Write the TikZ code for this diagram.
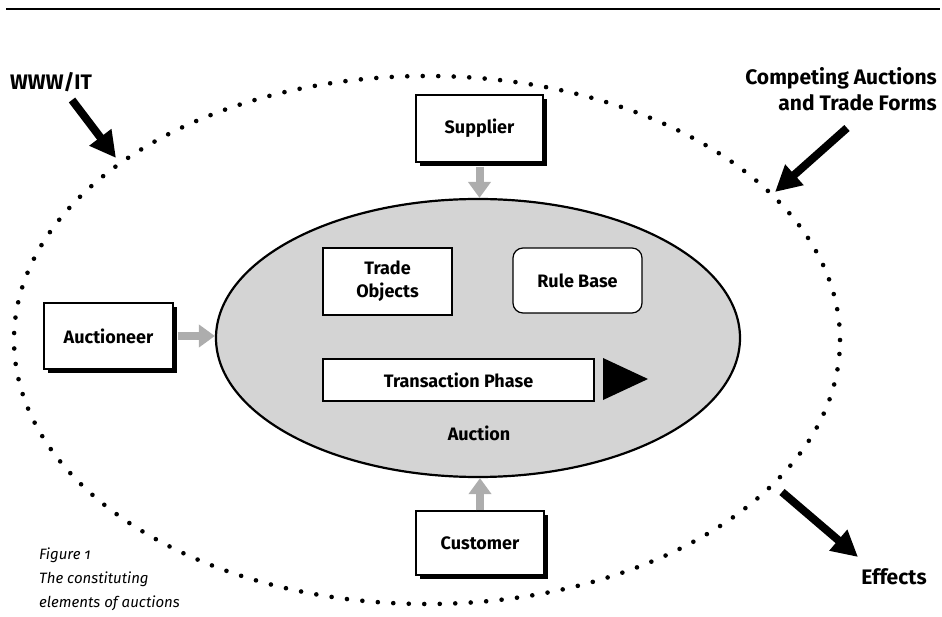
\documentclass[tikz,border=0pt]{standalone}
\usepackage{fontspec}
\setmainfont{Fira Sans}
\usetikzlibrary{shapes.geometric,arrows.meta,shadows}
\begin{document}
\begin{tikzpicture}[x=1pt,y=-1pt,
  box/.style={draw=black, line width=1.2pt, fill=white, font=\bfseries\fontsize{18}{23}\selectfont, align=center, inner sep=0pt},
  shadowbox/.style={box, drop shadow={shadow xshift=4pt, shadow yshift=-4pt, fill=black, opacity=1}},
  grayarr/.style={line width=8pt, color=black!32, -{Triangle[length=16pt,width=22pt]}},
  blackarr/.style={line width=8pt, -{Triangle[length=26pt,width=26pt]}},
  biglabel/.style={font=\bfseries\fontsize{21}{26}\selectfont, inner sep=0pt},
]
\useasboundingbox (0,0) rectangle (942,617);
% top rule
\coordinate (ruleL) at (6,9);
\coordinate (ruleR) at (940,9);
\draw[line width=2pt] (ruleL) -- (ruleR);
% environment (dotted ellipse)
\node[ellipse, draw, line width=4.6pt, dash pattern=on 0pt off 15.5pt, line cap=round,
      minimum width=826pt, minimum height=528pt, inner sep=0pt] (env) at (427,340) {};
% auction ellipse
\node[ellipse, draw, line width=2.2pt, fill={rgb,255:red,212;green,212;blue,212},
      minimum width=524pt, minimum height=278pt, inner sep=0pt] (auction) at (478,338) {};
% boxes
\node[shadowbox, minimum width=127pt, minimum height=67pt] (supplier) at (479.5,128.5) {Supplier};
\node[shadowbox, minimum width=129pt, minimum height=66pt] (auctioneer) at (108.5,336) {Auctioneer};
\node[shadowbox, minimum width=128pt, minimum height=64pt] (customer) at (480,543) {Customer};
\node[box, minimum width=129pt, minimum height=67pt] (trade) at (387.5,281.5) {Trade\\Objects};
\node[box, rounded corners=10pt, minimum width=129pt, minimum height=65pt] (rule) at (577.5,280.5) {Rule Base};
\node[box, minimum width=271pt, minimum height=42pt] (trans) at (458.5,380) {Transaction Phase};
\fill (603,358) -- (648,379) -- (603,400) -- cycle;
\node[font=\bfseries\fontsize{18}{22}\selectfont, inner sep=0pt] (auclabel) at (479,433) {Auction};
% gray arrows
\draw[grayarr] ([yshift=-4pt]supplier.south) -- (supplier.south |- auction.north);
\draw[grayarr] ([xshift=4pt]auctioneer.east) -- (auctioneer.east -| auction.west);
\draw[grayarr] (customer.north) -- (customer.north |- auction.south);
% outer labels and arrows
\node[biglabel, anchor=base west] (www) at (10,90) {WWW/IT};
\coordinate (wwwtail) at (72,100);
\coordinate (wwwtip) at (116,158);
\draw[blackarr] (wwwtail) -- (wwwtip);
\node[biglabel, align=right, anchor=north east] (comp) at (937,67) {Competing Auctions\\and Trade Forms};
\coordinate (comptail) at (847,128);
\coordinate (comptip) at (775,192);
\draw[blackarr] (comptail) -- (comptip);
\node[biglabel] (effects) at (894,577) {Effects};
\coordinate (efftail) at (782,492);
\coordinate (efftip) at (858,557);
\draw[blackarr] (efftail) -- (efftip);
% caption
\node[font=\itshape\fontsize{15}{24}\selectfont, align=left, anchor=south west, inner sep=0pt] (cap) at (39,611)
  {Figure {\addfontfeatures{Numbers=OldStyle}1}\\The constituting\\elements of auctions};
\end{tikzpicture}
\end{document}
